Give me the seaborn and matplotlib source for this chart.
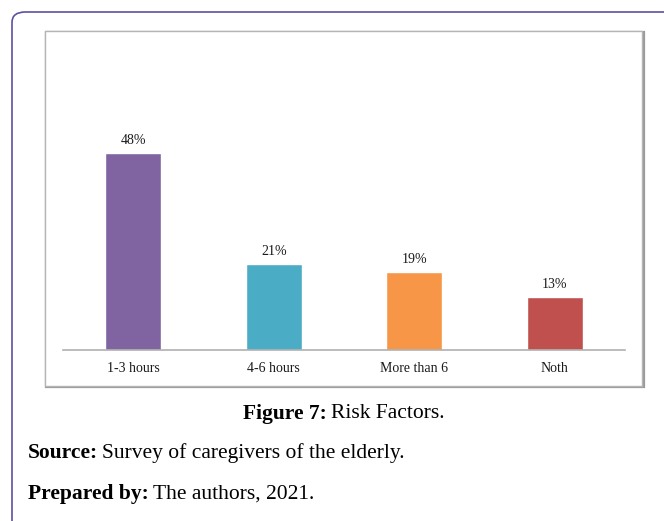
import matplotlib
matplotlib.use("Agg")
import matplotlib.pyplot as plt
import seaborn as sns
import pandas as pd
from matplotlib.patches import FancyBboxPatch, Rectangle

categories = ["1-3 hours", "4-6 hours", "More than 6", "Noth"]
values = [48, 21, 19, 13]
labels = ["48%", "21%", "19%", "13%"]
colors = ["#8064a2", "#4bacc6", "#f79646", "#c0504d"]

sns.set_theme(style="white")
plt.rcParams["font.family"] = ["Liberation Serif", "DejaVu Serif"]

W, H = 664, 521
fig = plt.figure(figsize=(W / 100, H / 100), dpi=100)

def fx(x):
    return x / W

def fy(y):
    return 1 - y / H

# outer rounded border (extends beyond right/bottom)
outer = FancyBboxPatch((fx(12), fy(540)), fx(700), 540 / H - 12 / H,
                       boxstyle="round,pad=0,rounding_size=0.02",
                       transform=fig.transFigure, fill=False,
                       edgecolor="#5b52a0", linewidth=1.2, clip_on=False, zorder=-2)
fig.patches.append(outer)

# inner chart frame with shadow
shadow = Rectangle((fx(46), fy(387)), fx(598), (387 - 32) / H,
                   transform=fig.transFigure, fill=False,
                   edgecolor="#9a9a9a", linewidth=1.6, zorder=-2)
fig.patches.append(shadow)
frame = Rectangle((fx(45), fy(386)), fx(597), (386 - 31) / H,
                  transform=fig.transFigure, facecolor="white",
                  edgecolor="#b5b5b5", linewidth=1.0, zorder=-1)
fig.patches.append(frame)

ax = fig.add_axes([fx(63), fy(350), fx(625 - 63), (350 - 60) / H])
ax.set_facecolor("none")

df = pd.DataFrame({"cat": categories, "val": values})
sns.barplot(data=df, x="cat", y="val", hue="cat", palette=colors,
            width=0.4, legend=False, ax=ax, saturation=1)

ax.set_xlim(-0.5, 3.5)
ax.set_ylim(0, 290 / 4.1)
for i, (v, t) in enumerate(zip(values, labels)):
    ax.text(i, v + 1.5, t, ha="center", va="bottom", fontsize=10, color="#1a1a1a")

for s in ["top", "right", "left"]:
    ax.spines[s].set_visible(False)
ax.spines["bottom"].set_color("#b0b0b0")
ax.spines["bottom"].set_linewidth(1.2)
ax.set_yticks([])
ax.set_xlabel("")
ax.set_ylabel("")
ax.tick_params(axis="x", length=0, pad=9, labelsize=10, labelcolor="#1a1a1a")

# captions
renderer = fig.canvas.get_renderer()
FS = 15.5

def two_part(x0, y, bold, regular, gap=5, center=None):
    tb = fig.text(fx(x0), fy(y), bold, ha="left", va="center",
                  fontsize=FS, fontweight="bold", color="black")
    bb = tb.get_window_extent(renderer)
    tr = fig.text((bb.x1 + gap) / W, fy(y), regular, ha="left", va="center",
                  fontsize=FS, color="black")
    if center is not None:
        br = tr.get_window_extent(renderer)
        total = br.x1 - bb.x0
        start = center - total / 2
        tb.set_x(start / W)
        tr.set_x((start + bb.width + gap) / W)

two_part(0, 414, "Figure 7:", "Risk Factors.", gap=4, center=344)
two_part(28, 453, "Source:", "Survey of caregivers of the elderly.", gap=4)
two_part(28, 494, "Prepared by:", "The authors, 2021.", gap=4)

fig.savefig("out.png", dpi=100)
